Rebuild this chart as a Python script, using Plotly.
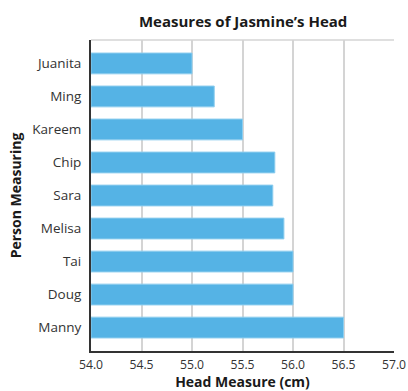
import plotly.graph_objects as go

people = ["Juanita", "Ming", "Kareem", "Chip", "Sara", "Melisa", "Tai", "Doug", "Manny"]
head_cm = [55.0, 55.22, 55.5, 55.82, 55.8, 55.91, 56.0, 56.0, 56.5]
x_ticks = [54.0, 54.5, 55.0, 55.5, 56.0, 56.5, 57.0]

base = 54.0

fig = go.Figure(go.Bar(
    y=people,
    x=[v - base for v in head_cm],
    base=base,
    orientation="h",
    width=0.63,
    marker=dict(color="#55b3e5", line=dict(color="#8dcdee", width=1)),
))

fig.update_layout(
    width=408, height=391,
    margin=dict(l=91, r=14, t=40, b=40),
    paper_bgcolor="white", plot_bgcolor="white",
    font=dict(family="Open Sans", size=13, color="#333333"),
    title=dict(text="<b>Measures of Jasmine’s Head</b>", x=0.596, xanchor="center",
               xref="container", yref="container",
               y=0.944, yanchor="middle", font=dict(size=15, color="#1a1a1a")),
    showlegend=False,
)

fig.update_xaxes(
    range=[54, 57], tickvals=x_ticks, tickformat=".1f", tickfont=dict(size=12.2),
    showgrid=True, gridcolor="#d4d4d4", gridwidth=1.5,
    showline=True, linecolor="#333333", linewidth=2,
    ticks="", zeroline=False, ticklabelstandoff=1, automargin=False,
    title=dict(text="<b>Head Measure (cm)</b>", font=dict(size=14, color="#1a1a1a"), standoff=4),
)
fig.update_yaxes(
    categoryorder="array", categoryarray=people, autorange=False, range=[8.71, -0.71],
    showgrid=False, showline=True, linecolor="#333333", linewidth=2,
    ticks="", ticklabelstandoff=5, automargin=False, tickfont=dict(size=13.5),
    title=dict(text="<b>Person Measuring</b>", font=dict(size=14, color="#1a1a1a"), standoff=7),
)

# light top border of the plot area
fig.add_shape(type="line", xref="paper", yref="paper", x0=0, x1=1, y0=1, y1=1,
              line=dict(color="#d4d4d4", width=1.5))

# drop the default page margin so the figure fills the window exactly
fig.write_html("out.html", config={"displayModeBar": False},
               post_script="document.body.style.margin='0';document.body.style.overflow='hidden';")
